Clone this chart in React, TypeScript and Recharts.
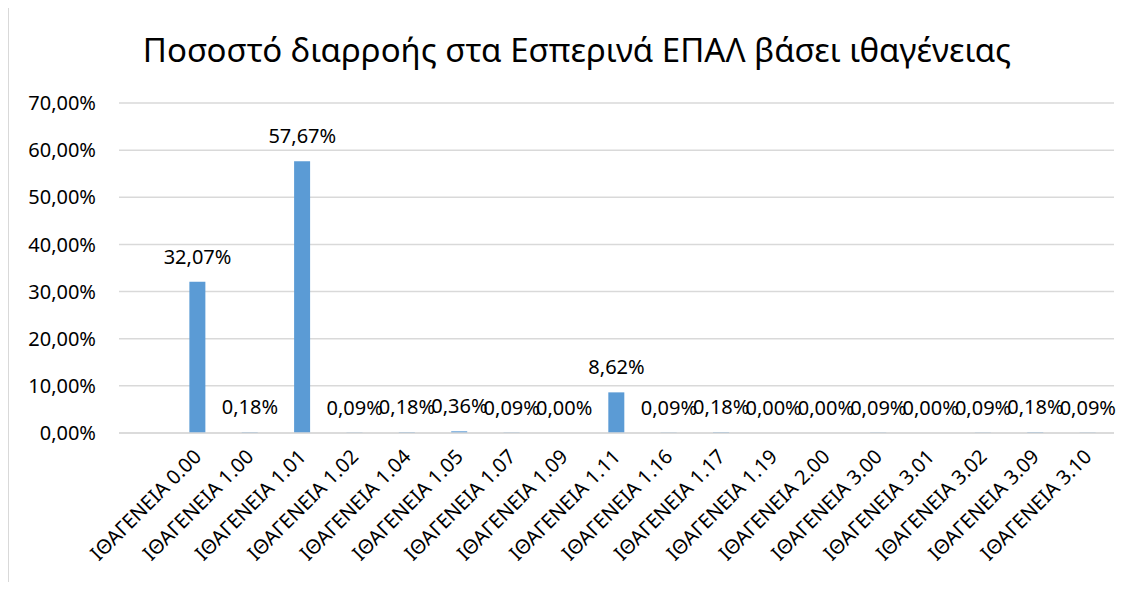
import React from "react";
import { ComposedChart, Bar, Line, XAxis, YAxis, CartesianGrid, LabelList } from "recharts";

const title = "Ποσοστό διαρροής στα Εσπερινά ΕΠΑΛ βάσει ιθαγένειας";

const categories = [
  "",
  "ΙΘΑΓΕΝΕΙΑ 0.00",
  "ΙΘΑΓΕΝΕΙΑ 1.00",
  "ΙΘΑΓΕΝΕΙΑ 1.01",
  "ΙΘΑΓΕΝΕΙΑ 1.02",
  "ΙΘΑΓΕΝΕΙΑ 1.04",
  "ΙΘΑΓΕΝΕΙΑ 1.05",
  "ΙΘΑΓΕΝΕΙΑ 1.07",
  "ΙΘΑΓΕΝΕΙΑ 1.09",
  "ΙΘΑΓΕΝΕΙΑ 1.11",
  "ΙΘΑΓΕΝΕΙΑ 1.16",
  "ΙΘΑΓΕΝΕΙΑ 1.17",
  "ΙΘΑΓΕΝΕΙΑ 1.19",
  "ΙΘΑΓΕΝΕΙΑ 2.00",
  "ΙΘΑΓΕΝΕΙΑ 3.00",
  "ΙΘΑΓΕΝΕΙΑ 3.01",
  "ΙΘΑΓΕΝΕΙΑ 3.02",
  "ΙΘΑΓΕΝΕΙΑ 3.09",
  "ΙΘΑΓΕΝΕΙΑ 3.10",
];

const values: (number | null)[] = [
  null, 32.07, 0.18, 57.67, 0.09, 0.18, 0.36, 0.09, 0.0, 8.62, 0.09, 0.18, 0.0, 0.0, 0.09, 0.0, 0.09, 0.18, 0.09,
];

const yTicks = [0, 10, 20, 30, 40, 50, 60, 70];

const data = categories.map((c, i) => ({ name: c, value: values[i] }));

const FONT = "'Noto Sans', sans-serif";
const fmt = (v: number) => v.toFixed(2).replace(".", ",") + "%";

const XTick = (props: any) => {
  const { x, y, payload } = props;
  const ax = x + 5;
  const ay = y + 17;
  return (
    <text
      x={ax}
      y={ay}
      transform={`rotate(-45, ${ax}, ${ay})`}
      textAnchor="end"
      fontSize={20}
      fontFamily={FONT}
      fill="#000"
    >
      {payload.value}
    </text>
  );
};

export default function App() {
  return (
    <div style={{ position: "relative", margin: -8, width: 1137, height: 590, overflow: "hidden", background: "#fff" }}>
      <div
        style={{
          position: "absolute",
          left: 7,
          top: 4,
          width: 1200,
          height: 700,
          border: "2px solid #D9D9D9",
          boxSizing: "border-box",
        }}
      />
      <div
        style={{
          position: "absolute",
          left: 0,
          top: 29,
          width: 1154,
          textAlign: "center",
          fontFamily: FONT,
          fontSize: 33,
          color: "#000",
          lineHeight: "42px",
          whiteSpace: "nowrap",
        }}
      >
        {title}
      </div>
      <div style={{ position: "absolute", left: 0, top: 0 }}>
        <ComposedChart
          width={1137}
          height={590}
          data={data}
          margin={{ top: 103, right: 23, bottom: 0, left: 0 }}
          barSize={16}
        >
          <CartesianGrid vertical={false} stroke="#D9D9D9" strokeWidth={1.5} />
          <XAxis
            dataKey="name"
            interval={0}
            axisLine={{ stroke: "#D9D9D9", strokeWidth: 1.5 }}
            tickLine={false}
            tick={<XTick />}
            height={157}
          />
          <YAxis
            width={119}
            domain={[0, 70]}
            ticks={yTicks}
            tickFormatter={(v: number) => fmt(v)}
            axisLine={false}
            tickLine={false}
            tickSize={0}
            tickMargin={23}
            tick={{ fontSize: 20, fontFamily: FONT, fill: "#000" }}
          />
          <Bar dataKey="value" fill="#5B9BD5" isAnimationActive={false} />
          <Line
            dataKey="value"
            stroke="none"
            dot={false}
            activeDot={false}
            legendType="none"
            isAnimationActive={false}
          >
            <LabelList
              dataKey="value"
              position="top"
              offset={18}
              formatter={(v: any) => (v == null ? "" : fmt(Number(v)))}
              style={{ fontSize: 20, fontFamily: FONT, fill: "#000" }}
            />
          </Line>
        </ComposedChart>
      </div>
    </div>
  );
}
